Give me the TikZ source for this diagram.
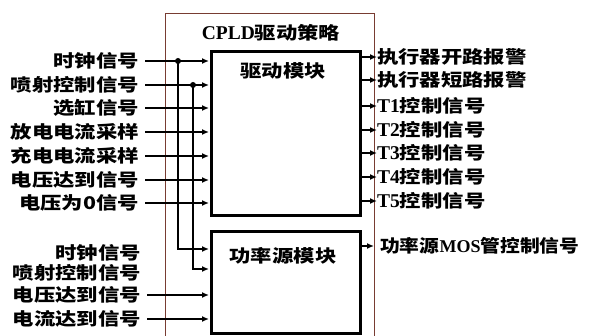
\documentclass[tikz,border=0pt]{standalone}
\usepackage{fontspec}
\setmainfont{Liberation Serif}
\newfontfamily\cjk[FakeStretch=1.22]{Noto Sans CJK SC}
\newfontfamily\cjkn[FakeStretch=1.13]{Noto Sans CJK SC}
\newfontfamily\latf{Liberation Serif}
\usetikzlibrary{arrows.meta,calc}
\newcommand\lt[1]{{\fontsize{19.5}{19.5}\selectfont\latf\bfseries #1}}
\begin{document}
\begin{tikzpicture}[x=1pt,y=-1pt,
  lbl/.style={font=\fontsize{17.5}{17.5}\selectfont\cjk\bfseries, inner sep=0pt},
  lbln/.style={font=\fontsize{17.5}{17.5}\selectfont\cjkn\bfseries, inner sep=0pt},
  thickbox/.style={draw=black, line width=3pt},
  outerbox/.style={draw={rgb,255:red,120;green,60;blue,50}, line width=1pt},
  sig/.style={line width=2pt, -{Latex[length=7pt,width=6pt]}},
  dot/.style={circle, fill=black, inner sep=0pt, minimum size=6pt}]
\useasboundingbox (0,0) rectangle (592,336);
% outer box
\draw[outerbox] (165,337) -- (165,14) -- (374,14) -- (374,337);
\node[lbl] (title) at (271,33) {\lt{CPLD}驱动策略};
% modules
\node[thickbox, minimum width=149pt, minimum height=164pt, anchor=north west, inner sep=0pt] (drv) at (210,50) {};
\node[thickbox, minimum width=149pt, minimum height=102pt, anchor=north west, inner sep=0pt] (pwr) at (210,230) {};
\node[lbl] (drvt) at (283,71) {驱动模块};
\node[lbl] (pwrt) at (283,256) {功率源模块};
% inputs upper
\foreach \n/\y/\t in {i1/61/时钟信号, i2/85/喷射控制信号, i3/108/选缸信号, i4/132/放电电流采样, i5/156/充电电流采样, i6/180/电压达到信号, i7/203/电压为0信号}{
  \node[lbl, anchor=east] (\n) at (139,\y) {\t};
  \coordinate (\n e) at (209,\y);
  \draw[sig] ($(\n.east)+(6,0)$) -- (\n e);
}
% junctions and branches
\node[dot] (j1) at (178,61) {};
\node[dot] (j2) at (193,85) {};
\coordinate (b1) at (209,249);
\coordinate (b2) at (209,269);
\draw[sig] (j1.center) |- (b1);
\draw[sig] (j2.center) |- (b2);
% inputs lower
\node[lbl, anchor=east] (l1) at (141,253) {时钟信号};
\node[lbl, anchor=east] (l2) at (141,273) {喷射控制信号};
\node[lbl, anchor=east] (l3) at (141,295) {电压达到信号};
\node[lbl, anchor=east] (l4) at (141,319) {电流达到信号};
\coordinate (l3e) at (209,295);
\coordinate (l4e) at (209,319);
\draw[sig] ($(l3.east)+(6,0)$) -- (l3e);
\draw[sig] ($(l4.east)+(6,0)$) -- (l4e);
% outputs
\foreach \n/\y/\t in {o1/57/执行器开路报警, o2/80/执行器短路报警, o3/106/{\lt{T1}控制信号}, o4/130/{\lt{T2}控制信号}, o5/153/{\lt{T3}控制信号}, o6/177/{\lt{T4}控制信号}, o7/201/{\lt{T5}控制信号}}{
  \coordinate (\n s) at (360,\y);
  \node[lbl, anchor=west] (\n) at (377,\y) {\t};
  \draw[sig] (\n s) -- (\n.west);
}
\coordinate (p1s) at (360,246);
\node[lbln, anchor=west] (p1) at (380,246) {功率源{\fontsize{18}{18}\selectfont\latf\bfseries MOS}管控制信号};
\draw[sig] (p1s) -- ($(p1.west)+(-6,0)$);
\end{tikzpicture}
\end{document}
